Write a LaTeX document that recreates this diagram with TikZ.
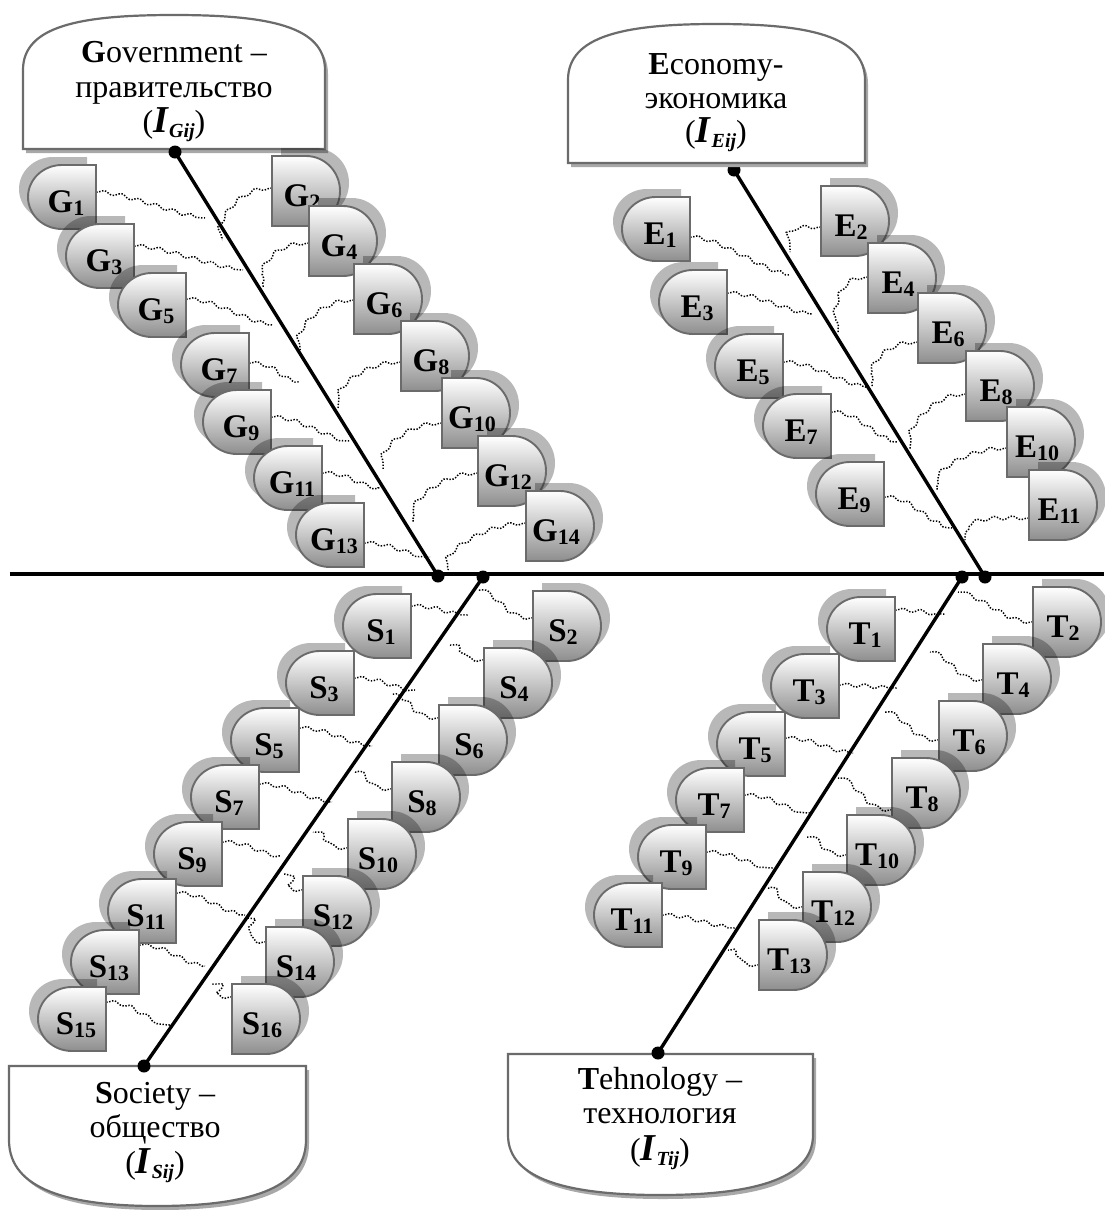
\documentclass[tikz,border=0pt]{standalone}
\usepackage{fontspec}
\setmainfont{Liberation Serif}
\usetikzlibrary{calc,decorations.pathmorphing}
\pgfdeclarelayer{back}
\pgfdeclarelayer{mid}
\pgfsetlayers{back,mid,main}
\definecolor{bordc}{HTML}{6B6B6B}
\definecolor{tilebot}{HTML}{8E8E8E}
\definecolor{boxsh}{HTML}{A8A8A8}
\tikzset{
  tilenode/.style={inner sep=0pt, minimum width=68pt, minimum height=64pt},
  tilepaint/.style={draw=bordc, line width=1.9pt, top color=white, bottom color=tilebot},
  tileshade/.style={fill=black, fill opacity=0.28},
  tilelab/.style={inner sep=0pt, anchor=base, font=\fontsize{33}{33}\selectfont\bfseries},
  wave/.style={line width=1.5pt, dash pattern=on 1.4pt off 1.6pt, decorate,
     decoration={snake, amplitude=1.8pt, segment length=18pt, pre length=2pt, post length=2pt}},
  bone/.style={line width=3.4pt},
  spine/.style={line width=3.8pt},
  bdot/.style={circle, fill=black, inner sep=0pt, minimum size=13pt},
  boxpaint/.style={draw=bordc, line width=2.2pt, fill=white},
  boxshade/.style={fill=boxsh},
  boxline/.style={inner sep=0pt, anchor=base, font=\fontsize{32}{32}\selectfont},
}
\newcommand{\tsub}[1]{\raisebox{-3pt}{\fontsize{22}{22}\selectfont #1}}
\newcommand{\Iv}[1]{\textbf{\textit{\fontsize{38}{38}\selectfont I}}\raisebox{-5pt}{\fontsize{20}{20}\selectfont\bfseries\itshape #1}}
\newcommand{\tileL}[5]{%
  \begin{scope}[shift={(#2,#3)}]
    \begin{scope}[shift={(-9,-8)}]
      \fill[tileshade] (34,-32) -- (0,-32) .. controls (-18.8,-32) and (-34,-17.7) .. (-34,0) .. controls (-34,17.7) and (-18.8,32) .. (0,32) -- (34,32) -- cycle;
    \end{scope}
    \path[tilepaint] (34,-32) -- (0,-32) .. controls (-18.8,-32) and (-34,-17.7) .. (-34,0) .. controls (-34,17.7) and (-18.8,32) .. (0,32) -- (34,32) -- cycle;
  \end{scope}
  \node[tilenode] (#1) at (#2,#3) {};
  \node[tilelab] (#1t) at ({#2+4},{#3+15}) {#4\tsub{#5}};
}
\newcommand{\tileR}[5]{%
  \begin{scope}[shift={(#2,#3)}]
    \begin{scope}[shift={(9,-8)}]
      \fill[tileshade] (-34,-35) -- (0,-35) .. controls (18.8,-35) and (34,-19.3) .. (34,0) .. controls (34,19.3) and (18.8,35) .. (0,35) -- (-34,35) -- cycle;
    \end{scope}
    \path[tilepaint] (-34,-35) -- (0,-35) .. controls (18.8,-35) and (34,-19.3) .. (34,0) .. controls (34,19.3) and (18.8,35) .. (0,35) -- (-34,35) -- cycle;
  \end{scope}
  \node[tilenode, minimum height=70pt] (#1) at (#2,#3) {};
  \node[tilelab] (#1t) at ({#2-4},{#3+15}) {#4\tsub{#5}};
}
\begin{document}
\begin{tikzpicture}[x=1pt,y=-1pt]
\begin{pgfonlayer}{back}
\fill[white] (0,0) rectangle (1104,1210);
\end{pgfonlayer}
\useasboundingbox (0,0) rectangle (1104,1210);

% E top dot (partly under the box)
\node[bdot] (etop) at (734,170) {};

% boxes
\begin{scope}[shift={(3,4)}]
\fill[boxshade] (23,149) -- (23,70) .. controls (23,26) and (80,15) .. (174,15) .. controls (268,15) and (325,26) .. (325,70) -- (325,149) -- cycle;
\fill[boxshade] (568,163) -- (568,80) .. controls (568,36) and (624,24) .. (716,24) .. controls (809,24) and (865,36) .. (865,80) -- (865,163) -- cycle;
\fill[boxshade] (9,1066) -- (9,1140) .. controls (9,1190) and (70,1206) .. (157,1206) .. controls (245,1206) and (306,1190) .. (306,1140) -- (306,1066) -- cycle;
\fill[boxshade] (508,1054) -- (508,1135) .. controls (508,1180) and (570,1195) .. (660,1195) .. controls (751,1195) and (813,1180) .. (813,1135) -- (813,1054) -- cycle;
\end{scope}
\path[boxpaint] (23,149) -- (23,70) .. controls (23,26) and (80,15) .. (174,15) .. controls (268,15) and (325,26) .. (325,70) -- (325,149) -- cycle;
\path[boxpaint] (568,163) -- (568,80) .. controls (568,36) and (624,24) .. (716,24) .. controls (809,24) and (865,36) .. (865,80) -- (865,163) -- cycle;
\path[boxpaint] (9,1066) -- (9,1140) .. controls (9,1190) and (70,1206) .. (157,1206) .. controls (245,1206) and (306,1190) .. (306,1140) -- (306,1066) -- cycle;
\path[boxpaint] (508,1054) -- (508,1135) .. controls (508,1180) and (570,1195) .. (660,1195) .. controls (751,1195) and (813,1180) .. (813,1135) -- (813,1054) -- cycle;

% spine and bones
\coordinate (spl) at (10,574);
\coordinate (spr) at (1104,574);
\draw[spine] (spl) -- (spr);
\node[bdot] (gtop) at (175,152) {};
\node[bdot] (gsp) at (438,576) {};
\node[bdot] (ssp) at (483,577) {};
\node[bdot] (tsp) at (962,577) {};
\node[bdot] (esp) at (985,577) {};
\node[bdot] (sbot) at (144,1066) {};
\node[bdot] (tbot) at (658,1053) {};
\draw[bone] (gtop.center) -- (gsp.center);
\draw[bone] (etop.center) -- (esp.center);
\draw[bone] (ssp.center) -- (sbot.center);
\draw[bone] (tsp.center) -- (tbot.center);

% box texts
\node[boxline] (gl1) at (174,62) {\textbf{G}overnment --};
\node[boxline] (gl2) at (174,97) {правительство};
\node[boxline] (gl3) at (174,132) {(\Iv{Gij})};
\node[boxline] (el1) at (716,74) {\textbf{E}conomy-};
\node[boxline] (el2) at (716,108) {экономика};
\node[boxline] (el3) at (716,142) {(\Iv{Eij})};
\node[boxline] (sl1) at (155,1103) {\textbf{S}ociety --};
\node[boxline] (sl2) at (155,1137) {общество};
\node[boxline] (sl3) at (155,1173) {(\Iv{Sij})};
\node[boxline] (tl1) at (660,1089) {\textbf{T}ehnology --};
\node[boxline] (tl2) at (660,1123) {технология};
\node[boxline] (tl3) at (660,1160) {(\Iv{Tij})};

% tiles
\tileL{g1}{62}{197}{G}{1}
\tileR{g2}{306}{191}{G}{2}
\tileL{g3}{100}{256}{G}{3}
\tileR{g4}{343}{241}{G}{4}
\tileL{g5}{152}{305}{G}{5}
\tileR{g6}{388}{299}{G}{6}
\tileL{g7}{215}{365}{G}{7}
\tileR{g8}{435}{356}{G}{8}
\tileL{g9}{237}{422}{G}{9}
\tileR{g10}{476}{413}{G}{10}
\tileL{g11}{288}{478}{G}{11}
\tileR{g12}{512}{471}{G}{12}
\tileL{g13}{330}{535}{G}{13}
\tileR{g14}{560}{526}{G}{14}

\tileL{e1}{656}{229}{E}{1}
\tileR{e2}{855}{221}{E}{2}
\tileL{e3}{693}{302}{E}{3}
\tileR{e4}{902}{278}{E}{4}
\tileL{e5}{749}{366}{E}{5}
\tileR{e6}{952}{328}{E}{6}
\tileL{e7}{797}{426}{E}{7}
\tileR{e8}{1000}{386}{E}{8}
\tileL{e9}{850}{494}{E}{9}
\tileR{e10}{1041}{442}{E}{10}
\tileR{e11}{1063}{505}{E}{11}

\tileL{s1}{377}{626}{S}{1}
\tileR{s2}{567}{626}{S}{2}
\tileL{s3}{320}{683}{S}{3}
\tileR{s4}{518}{683}{S}{4}
\tileL{s5}{265}{740}{S}{5}
\tileR{s6}{473}{740}{S}{6}
\tileL{s7}{225}{797}{S}{7}
\tileR{s8}{426}{797}{S}{8}
\tileL{s9}{188}{854}{S}{9}
\tileR{s10}{382}{854}{S}{10}
\tileL{s11}{142}{911}{S}{11}
\tileR{s12}{337}{911}{S}{12}
\tileL{s13}{105}{962}{S}{13}
\tileR{s14}{300}{962}{S}{14}
\tileL{s15}{72}{1019}{S}{15}
\tileR{s16}{266}{1019}{S}{16}

\tileL{t1}{861}{629}{T}{1}
\tileR{t2}{1067}{622}{T}{2}
\tileL{t3}{805}{686}{T}{3}
\tileR{t4}{1017}{679}{T}{4}
\tileL{t5}{751}{744}{T}{5}
\tileR{t6}{973}{736}{T}{6}
\tileL{t7}{710}{800}{T}{7}
\tileR{t8}{926}{793}{T}{8}
\tileL{t9}{672}{857}{T}{9}
\tileR{t10}{881}{850}{T}{10}
\tileL{t11}{628}{915}{T}{11}
\tileR{t12}{837}{907}{T}{12}
\tileR{t13}{793}{955}{T}{13}

% wavy dotted connectors (under the tiles)
\begin{pgfonlayer}{mid}
\foreach \n/\dy/\ex/\ey in {g1/-5/205/218, g3/-10/243/270, g5/-6/273/325, g7/-2/300/382, g9/-5/350/441, g11/-5/380/488, g13/8/430/557,
  e1/8/790/275, e3/-9/812/314, e5/-4/868/387, e7/-14/898/442, e9/3/952/528,
  s1/-20/468/615, s3/-5/415/690, s5/-12/372/746, s7/-13/332/802, s9/-12/281/856, s11/-18/245/915, s13/-17/205/966, s15/-17/170/1025,
  t1/-19/945/614, t3/-1/898/688, t5/-6/853/753, t7/-5/810/813, t9/-5/773/868, t11/0/735/928}
{
  \coordinate (c\n) at (\ex,\ey);
  \draw[wave] ($(\n.east)+(0,\dy)$) .. controls +(25,0) and +(-25,0) .. (c\n);
}
\foreach \n/\dy/\ex/\ey in {g2/-3/222/240, g4/2/263/287, g6/1/300/350, g8/6/338/408, g10/10/383/470, g12/2/413/522, g14/-3/448/570,
  e2/6/790/252, e4/-1/838/333, e6/14/872/387, e8/8/910/450, e10/6/937/490, e11/13/965/540}
{
  \coordinate (c\n) at (\ex,\ey);
  \draw[wave] ($(\n.west)+(0,\dy)$) .. controls +(-25,0) and +(0,-25) .. (c\n);
}
\foreach \n/\dy/\ex/\ey in {s2/-8/478/590, s4/-23/450/645, s6/-22/392/694, s8/-8/355/772, s10/-6/313/832, s12/-21/283/874, s14/-20/245/918, s16/-22/211/984,
  t2/0/958/592, t4/1/930/652, t6/4/885/712, t8/17/838/778, t10/5/807/837, t12/0/768/888, t13/10/728/950}
{
  \coordinate (c\n) at (\ex,\ey);
  \draw[wave] ($(\n.west)+(0,\dy)$) .. controls +(-25,0) and +(25,0) .. (c\n);
}
\end{pgfonlayer}
\end{tikzpicture}
\end{document}
